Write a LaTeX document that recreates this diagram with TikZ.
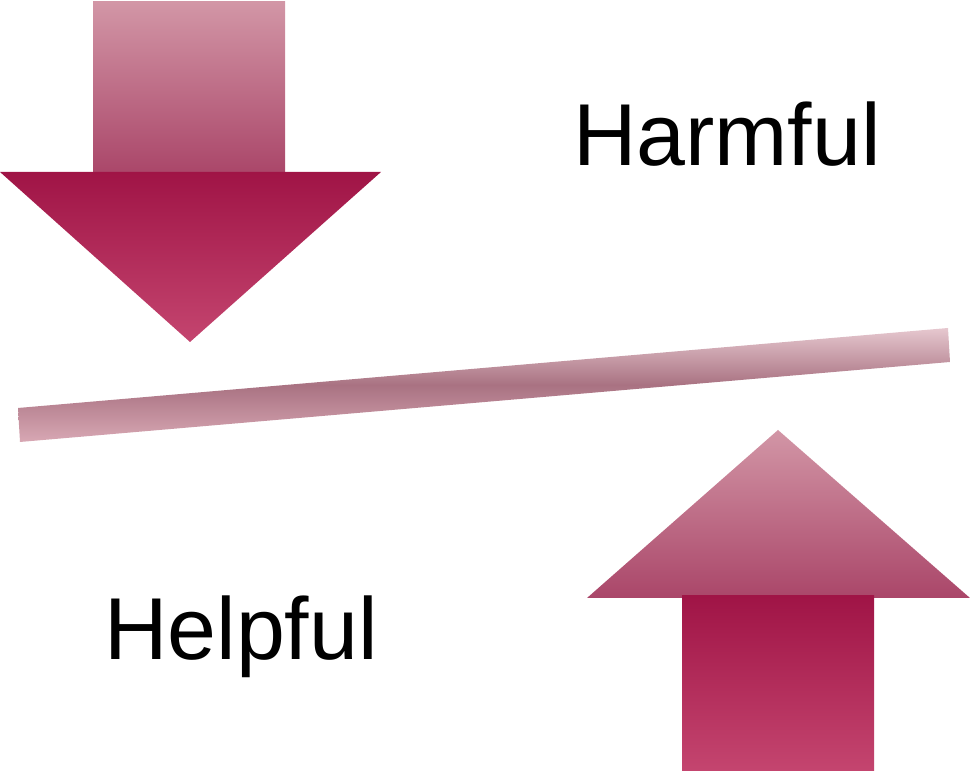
\documentclass[tikz,border=0pt]{standalone}
\usepackage{fontspec}
\setmainfont{Liberation Sans}
\usepackage{tikz}

\definecolor{rosepale}{HTML}{D296A6}
\definecolor{rosemid}{HTML}{AA4669}
\definecolor{crimson}{HTML}{A01446}
\definecolor{crimsonlt}{HTML}{C4456F}
\definecolor{barpale}{HTML}{E6C8CF}
\definecolor{bardark}{HTML}{A97282}
\definecolor{barlow}{HTML}{D8A8B4}

\begin{document}
\begin{tikzpicture}[
    x=0.01cm, y=-0.01cm,
    lightpart/.style={top color=rosepale, bottom color=rosemid},
    darkpart/.style={top color=crimson, bottom color=crimsonlt},
    lbl/.style={font=\fontsize{25}{30}\selectfont, inner sep=0pt, anchor=base}
]
\useasboundingbox (0,0) rectangle (972,771);

% arrow pointing down
\shade[lightpart] (93,2) rectangle (285,174);
\shade[darkpart] (0,172) -- (381,172) -- (190,342) -- cycle;

% tilted bar
\shade[top color=barpale, bottom color=barlow, middle color=bardark]
    (18,408) -- (948,328) -- (950,362) -- (20,442) -- cycle;

% arrow pointing up
\shade[lightpart] (778,430) -- (970,598) -- (587,598) -- cycle;
\shade[darkpart] (682,596) rectangle (874,771);

\node[lbl] (harm) at (727,166) {Harmful};
\node[lbl] (help) at (241,660) {Helpful};
\end{tikzpicture}
\end{document}
